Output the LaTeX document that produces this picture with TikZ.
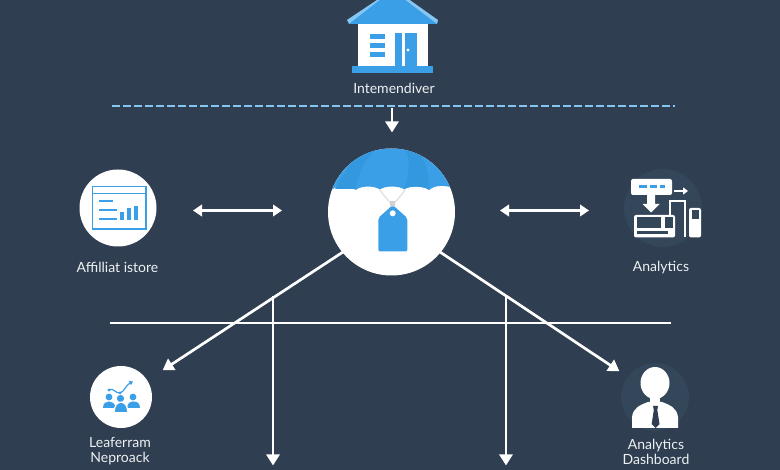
\documentclass[tikz,border=0pt]{standalone}
\usepackage{fontspec}
\setmainfont{Lato}
\usetikzlibrary{arrows.meta}
\definecolor{bg}{HTML}{2F3E50}
\definecolor{faint}{HTML}{34465A}
\definecolor{blu}{HTML}{3A9FE6}
\definecolor{blud}{HTML}{3498DF}
\definecolor{blul}{HTML}{86C6F2}
\definecolor{txt}{HTML}{EEF1F3}
\tikzset{
  disc/.style={circle,fill=white,draw=none,inner sep=0pt,minimum size=#1},
  fdisc/.style={circle,fill=faint,draw=none,inner sep=0pt,minimum size=#1},
  lab/.style={text=txt,font=\fontsize{14}{15}\selectfont,align=center,inner sep=0pt},
  link/.style={draw=white,line width=2.7pt},
  arr/.style={link,-{Triangle[length=11pt,width=13pt]},shorten >=-0.5pt},
  dbl/.style={draw=white,line width=2.3pt,{Triangle[length=9pt,width=11.5pt]}-{Triangle[length=9pt,width=11.5pt]}},
  ico/.style={draw=blu,line width=1.6pt},
}
\begin{document}
\begin{tikzpicture}[x=1pt,y=-1pt]
\useasboundingbox (0,0) rectangle (780,470);
\fill[bg] (0,0) rectangle (780,470);
% ---- nodes
\node[disc=127pt] (hub) at (391.5,212) {};
\node[disc=77pt] (store) at (118,208) {};
\node[fdisc=78pt] (ana) at (663,208) {};
\node[disc=62pt] (leaf) at (121,397) {};
\node[fdisc=68pt] (dash) at (655,397) {};
\node[lab] (tHouse) at (394,88.5) {Intemendiver};
\node[lab] (tStore) at (117.5,267.5) {Affilliat istore};
\node[lab] (tAna) at (661,267.5) {Analytics};
\node[lab] (tLeaf) at (120,451.5) {Leaferram\\[0pt]Neproack};
\node[lab] (tDash) at (656,451.5) {Analytics\\[0pt]Dashboard};
% ---- coordinates for free connector ends
\coordinate (dashL) at (112,106);
\coordinate (dashR) at (675,106);
\coordinate (busL) at (110,323);
\coordinate (busR) at (671,323);
\coordinate (inTop) at (392,108);
\coordinate (inEnd) at (392,132);
\coordinate (lA) at (193,210.5);
\coordinate (lB) at (282,210.5);
\coordinate (rA) at (500,210.5);
\coordinate (rB) at (589,210.5);
\coordinate (hubSW) at (343,252);
\coordinate (hubSE) at (440,252);
\coordinate (sw) at (163,370);
\coordinate (se) at (619,371);
\coordinate (v1a) at (273,296);
\coordinate (v1b) at (273,465);
\coordinate (v2a) at (506,296);
\coordinate (v2b) at (506,465);
% ---- connectors
\draw[draw=blul,line width=2.3pt,dash pattern=on 7.5pt off 3.5pt] (dashL) -- (dashR);
\draw[link] (busL) -- (busR);
\draw[arr] (inTop) -- (inEnd);
\draw[dbl] (lA) -- (lB);
\draw[dbl] (rA) -- (rB);
\draw[arr] (hubSW) -- (sw);
\draw[arr] (hubSE) -- (se);
\draw[arr] (v1a) -- (v1b);
\draw[arr] (v2a) -- (v2b);
% ---- house
\begin{scope}
\clip (0,0) rectangle (780,470);
\fill[white] (358,24) rectangle (428,67);
\fill[blul] (347,20) -- (349,24) -- (437,24) -- (438,20) -- (407,-2) -- (380,-2) -- cycle;
\fill[blu] (349,24) -- (437,24) -- (400,-4) -- (385,-4) -- cycle;
\fill[blu] (352,66.5) rectangle (433,73);
\fill[blu] (370,34) rectangle (385,39);
\fill[blu] (370,43) rectangle (385,48);
\fill[blu] (370,52) rectangle (385,57);
\fill[blu] (395,33) rectangle (417,66.5);
\fill[white] (402,33) rectangle (405,66.5);
\fill[white] (408,50) circle (1.6);
\end{scope}
% ---- parachute and tag on the hub
\begin{scope}
\clip (391.5,212) circle (63.5);
\fill[blu] (320,190) -- (331.5,190) .. controls (338,184.5) and (349,184.5) .. (355.7,190)
  .. controls (361,185.5) and (374,185.5) .. (380,189.5)
  .. controls (385,185.5) and (399,185.5) .. (404.3,189.5)
  .. controls (410,185.5) and (423,185.5) .. (429,190)
  .. controls (436,184.5) and (445,184.5) .. (460,190) -- (460,140) -- (320,140) -- cycle;
\fill[blud] (355.7,189) .. controls (358,172) and (366,157) .. (378,148) -- (360,148) -- (335,189) -- cycle;
\fill[blud] (404.5,188) .. controls (410,172) and (410,158) .. (405,148) -- (418,148) .. controls (425,160) and (429,175) .. (429,189) .. controls (421,186) and (410,186) .. (404.5,188) -- cycle;
\end{scope}
\draw[draw=black!12,line width=1.3pt] (380,190) .. controls (384,196) and (388,200) .. (391.5,204);
\draw[draw=black!12,line width=1.3pt] (405,190) .. controls (401,196) and (397,200) .. (393.5,204);
\fill[black!18] (390,201.5) rectangle (395,206);
\fill[blu,rounded corners=2pt] (378.3,251.5) -- (378.3,218) -- (392.7,205) -- (407.3,218) -- (407.3,251.5) -- cycle;
\fill[white] (392.7,213.3) circle (3);
% ---- store icon
\draw[ico,draw=blu] (92.5,186.5) rectangle (146,229);
\draw[ico] (92.5,193.5) -- (146,193.5);
\draw[ico] (99,201) -- (113,201);
\draw[ico] (99,210) -- (117,210);
\draw[ico] (99,219) -- (117,219);
\fill[blu] (120,212) rectangle (123.5,220);
\fill[blu] (127,208) rectangle (130.5,220);
\fill[blu] (134,206) rectangle (137.5,220);
% ---- analytics icon
\fill[white,rounded corners=2pt] (631,179) rectangle (672,195);
\fill[blu] (638.5,185) rectangle (646.5,188);
\fill[blu] (650,185) rectangle (656.5,188);
\fill[blu] (659.5,185) rectangle (665,188);
\fill[white] (647,195) -- (655,195) -- (655,204) -- (659.5,204) -- (651,212.5) -- (642.5,204) -- (647,204) -- cycle;
\draw[draw=white,line width=1.6pt,-{Triangle[length=5pt,width=7pt]}] (674,191) -- (688,191);
\fill[white,rounded corners=2pt] (634,215) rectangle (675,237.5);
\fill[faint] (637,217.5) rectangle (661,228);
\fill[faint] (665,217.5) rectangle (672.5,228);
\fill[faint] (637,231) rectangle (668,234);
\draw[draw=white,line width=2pt] (669.5,215) -- (669.5,201.5) -- (685,201.5) -- (685,237.5);
\fill[white,rounded corners=2pt] (689,208) rectangle (701,237.5);
\fill[faint] (691.5,210.5) rectangle (698.5,219);
% ---- leaf icon (people and chart)
\fill[blu] (109,397) circle (3.4);
\fill[blu] (133,397) circle (3.4);
\fill[blu] (103,408) .. controls (103,403) and (106,401.5) .. (109,401.5) .. controls (112,401.5) and (115,403) .. (115.5,408) -- cycle;
\fill[blu] (127,408) .. controls (127.5,403) and (130,401.5) .. (133.5,401.5) .. controls (137,401.5) and (140,403) .. (140,408) -- cycle;
\fill[white] (120.5,398.5) circle (5);
\fill[blu] (120.5,398.5) circle (3.6);
\fill[white] (113.5,412.5) .. controls (113.5,405) and (117,401.5) .. (121,401.5) .. controls (125,401.5) and (128.5,405) .. (128.5,412.5) -- cycle;
\fill[blu] (115,412) .. controls (115,405.5) and (118,403) .. (121,403) .. controls (124,403) and (127,405.5) .. (127,412) -- cycle;
\draw[draw=blu,line width=1.2pt,-{Triangle[length=3.5pt,width=4.5pt]}] (109,390) .. controls (113,387) and (116,394) .. (120,393) .. controls (124,392) and (126,385) .. (133,381.5);
\fill[blu] (109,390) circle (1.7);
\fill[blu] (120,393) circle (1.5);
% ---- dashboard icon (person with tie)
\fill[white] (632,428) -- (632,417) .. controls (633,408) and (640,405) .. (648,402) -- (662,402) .. controls (670,405) and (677,408) .. (678,417) -- (678,428) -- cycle;
\fill[white] (650,395) rectangle (660,404);
\fill[white] (655,383) ellipse (14.5 and 16);
\fill[bg] (653,406) -- (658,406) -- (657.3,410) -- (659.5,424) -- (655.5,428) -- (651.7,424) -- (653.8,410) -- cycle;
\end{tikzpicture}
\end{document}
